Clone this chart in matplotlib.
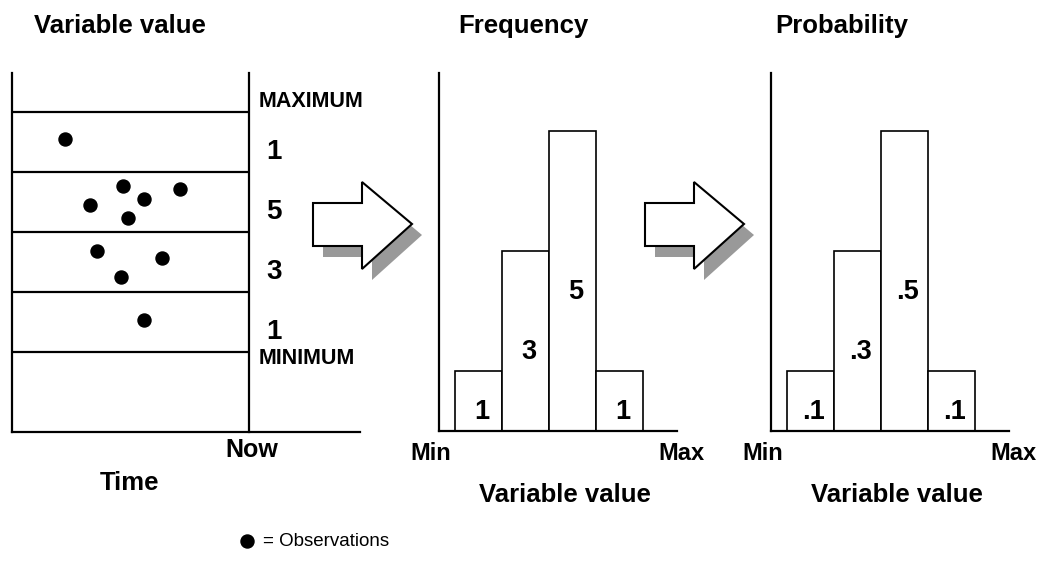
import matplotlib
matplotlib.use("Agg")
import matplotlib.pyplot as plt
import numpy as np
from matplotlib.patches import Polygon

plt.rcParams['font.family'] = ['Liberation Sans', 'DejaVu Sans']

# observations: time (0 = start, 1 = now) and variable value (band edges 1..5)
obs_time = [0.224, 0.468, 0.709, 0.329, 0.557, 0.489, 0.359, 0.633, 0.460, 0.557]
obs_value = [4.55, 3.77, 3.72, 3.45, 3.55, 3.23, 2.68, 2.57, 2.25, 1.53]
band_edges = [1, 2, 3, 4, 5]

# histogram bins (Min -> Max)
bins = [0, 1, 2, 3]

W, H = 1040, 578


def px_axes(fig, x0, y0, x1, y1):
  ax = fig.add_axes([x0 / W, 1 - y1 / H, (x1 - x0) / W, (y1 - y0) / H])
  ax.set_axis_off()
  return ax


def fig_text(fig, x, y, s, **kw):
  fig.text(x / W, 1 - y / H, s, **kw)


def draw_arrow(ax, dx):
  pts = np.array([[313, 203], [362, 203], [362, 182], [412, 224],
                  [362, 269], [362, 246], [313, 246]], dtype=float)
  pts[:, 0] += dx
  ax.add_patch(Polygon(pts + [10, 11], closed=True, fc='#999999', ec='none'))
  ax.add_patch(Polygon(pts, closed=True, fc='white', ec='black', lw=1.5))


def main():
  fig = plt.figure(figsize=(10.4, 5.78), dpi=100)
  lw = 1.6
  bold = dict(fontweight='bold', color='black')

  counts = np.histogram(obs_value, bins=band_edges)[0]
  probs = counts / counts.sum()

  # ---- panel 1 : observations over time
  ax1 = px_axes(fig, 12, 73, 360, 432)
  ylo, yhi = -20 / 60, (412 - 73) / 60
  xmax = (360 - 12) / 237
  ax1.set_xlim(0, xmax)
  ax1.set_ylim(ylo, yhi)
  ax1.plot([0, 0], [ylo, yhi], color='black', lw=lw, clip_on=False)
  ax1.plot([1, 1], [ylo, yhi], color='black', lw=lw, clip_on=False)
  ax1.plot([0, xmax], [ylo, ylo], color='black', lw=lw, clip_on=False)
  ax1.hlines(band_edges, 0, 1, color='black', lw=lw)
  ax1.scatter(obs_time, obs_value, s=88, color='black', zorder=3)
  for i in range(len(counts)):
    mid = (band_edges[i] + band_edges[i + 1]) / 2
    ax1.text(1.074, mid - 0.28, str(counts[i]), fontsize=20, ha='left',
             va='baseline', **bold)
  ax1.text(1.04, band_edges[-1] + 0.17, "MAXIMUM", fontsize=15.5, ha='left',
           va='center', **bold)
  ax1.text(1.04, band_edges[0] - 0.1, "MINIMUM", fontsize=15.5, ha='left',
           va='center', **bold)
  ax1.text(1.01, ylo - 18 / 60, "Now", fontsize=18, ha='center', va='center',
           clip_on=False, **bold)

  # ---- panel 2 and 3 : histograms
  for k, (x0, vals, title) in enumerate([(439, counts, "Frequency"),
                                         (771, probs, "Probability")]):
    ax = px_axes(fig, x0, 73, x0 + 238, 431)
    scale = 1 if k == 0 else counts.sum()
    ax.set_xlim(-16 / 47, 222 / 47)
    ax.set_ylim(0, 358 / 60 / scale)
    ax.bar(bins, vals, width=1, align='edge', color='white',
           edgecolor='black', lw=1.2)
    ax.plot([-16 / 47, -16 / 47], [0, 358 / 60 / scale], color='black',
            lw=lw, clip_on=False)
    ax.plot([-16 / 47, 222 / 47], [0, 0], color='black', lw=lw, clip_on=False)
    for b, v in zip(bins, vals):
      if k == 0:
        lab = str(v)
      else:
        lab = ("%.1f" % v).lstrip('0')
      ax.text(b + 0.5 + 0.07, v / 2 - 0.3 / scale, lab, fontsize=19.5,
              ha='center', va='baseline', **bold)
    fig_text(fig, x0 - 8, 453, "Min", fontsize=17, ha='center',
             va='center', **bold)
    fig_text(fig, x0 + 242, 453, "Max", fontsize=17, ha='center',
             va='center', **bold)
    fig_text(fig, x0 + 126, 495, "Variable value", fontsize=18.5,
             ha='center', va='center', **bold)
    fig_text(fig, x0 + 84 + (k * -13), 26, title, fontsize=18.5,
             ha='center', va='center', **bold)

  fig_text(fig, 120, 26, "Variable value", fontsize=18.5, ha='center',
           va='center', **bold)
  fig_text(fig, 130, 483, "Time", fontsize=18.5, ha='center', va='center',
           **bold)

  # ---- arrows and legend in pixel coordinates
  over = fig.add_axes([0, 0, 1, 1])
  over.set_xlim(0, W)
  over.set_ylim(H, 0)
  over.set_axis_off()
  over.patch.set_alpha(0)
  draw_arrow(over, 0)
  draw_arrow(over, 332)
  over.scatter([247], [541], s=88, color='black')
  over.text(263, 542, "= Observations", fontsize=13.5, ha='left',
            va='center', color='black')

  fig.savefig("out.png", dpi=100, facecolor='white')


if __name__ == '__main__':
  main()
